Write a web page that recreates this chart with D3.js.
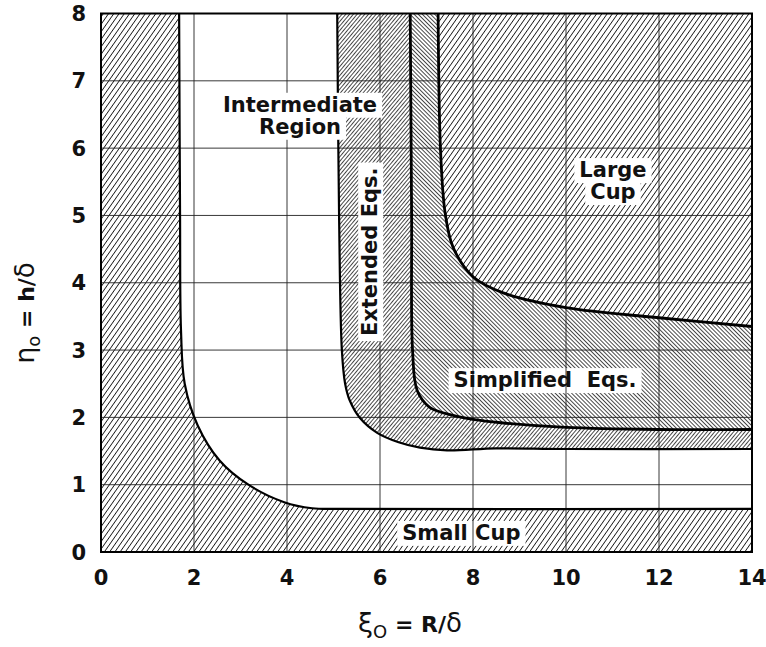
<!DOCTYPE html>
<html>
<head>
<meta charset="utf-8">
<script src="https://cdn.jsdelivr.net/npm/d3@7"></script>
<style>
  body { margin: 0; background: #fff; }
  svg { display: block; }
</style>
</head>
<body>
<div id="chart"></div>
<script>
// ticks
const xTicks = [0, 2, 4, 6, 8, 10, 12, 14];
const yTicks = [0, 1, 2, 3, 4, 5, 6, 7, 8];

// region boundaries, [xi0, eta0]
const smallCupEdge = [[1.68, 8], [1.70, 5], [1.72, 3.3], [1.80, 2.5], [2.08, 1.88], [2.55, 1.36], [3.17, 1.0], [3.94, 0.74], [4.54, 0.65], [5.2, 0.64], [14, 0.64]];
const extendedEdge = [[5.08, 8], [5.12, 5], [5.18, 3], [5.25, 2.5], [5.35, 2.25], [5.57, 1.99], [5.94, 1.77], [6.4, 1.63], [6.86, 1.55], [7.44, 1.51], [8.5, 1.54], [10, 1.53], [14, 1.53]];
const simplifiedEdge = [[6.65, 8], [6.68, 5], [6.7, 3], [6.8, 2.4], [7.07, 2.15], [7.57, 2.03], [8.0, 1.97], [8.6, 1.92], [10, 1.85], [12, 1.82], [14, 1.82]];
const largeCupEdge = [[7.25, 8], [7.3, 6], [7.4, 5.04], [7.57, 4.53], [8.0, 4.09], [8.65, 3.85], [10, 3.63], [12, 3.48], [14, 3.35]];

// region names
const labelText = [['Intermediate', 'Region'], ['Extended Eqs.'], ['Large', 'Cup'], ['Simplified  Eqs.'], ['Small Cup']];
const labelAt = [[4.28, 6.54], [5.94, 4.46], [11.01, 5.57], [9.55, 2.45], [7.75, 0.18]];

const W = 766, H = 647;
const plot = {left: 101, right: 752, top: 13.5, bottom: 552};
const font = '"DejaVu Sans", sans-serif';

const x = d3.scaleLinear().domain([0, 14]).range([plot.left, plot.right]);
const y = d3.scaleLinear().domain([0, 8]).range([plot.bottom, plot.top]);

const svg = d3.select('#chart').append('svg')
    .attr('width', W)
    .attr('height', H)
    .style('background', '#fff');
const defs = svg.append('defs');

// hatch patterns
function hatch(id, gap, angle, sw) {
    defs.append('pattern')
        .attr('id', id)
        .attr('patternUnits', 'userSpaceOnUse')
        .attr('width', gap)
        .attr('height', 10)
        .attr('patternTransform', `rotate(${angle})`)
        .append('line')
        .attr('x1', gap / 2).attr('x2', gap / 2)
        .attr('y1', 0).attr('y2', 10)
        .attr('stroke', '#1a1a1a')
        .attr('stroke-width', sw);
}
hatch('cup', 4.3, 35, 0.9);
hatch('ext', 2.9, 40, 0.8);
hatch('simp', 2.9, -45, 0.8);

defs.append('clipPath').attr('id', 'clip')
    .append('rect')
    .attr('x', plot.left).attr('y', plot.top)
    .attr('width', plot.right - plot.left)
    .attr('height', plot.bottom - plot.top);

const line = d3.line()
    .x(d => x(d[0]))
    .y(d => y(d[1]))
    .curve(d3.curveCatmullRom.alpha(0.5));

function between(a, b) {
    return line(a) + line(b.slice().reverse()).replace(/^M/, 'L') + 'Z';
}

const g = svg.append('g').attr('clip-path', 'url(#clip)');

// regions
g.append('path')
    .attr('d', line(smallCupEdge) + `L${x(14)},${y(0)}L${x(0)},${y(0)}L${x(0)},${y(8)}Z`)
    .attr('fill', 'url(#cup)');
g.append('path').attr('d', between(extendedEdge, simplifiedEdge)).attr('fill', 'url(#ext)');
g.append('path').attr('d', between(simplifiedEdge, largeCupEdge)).attr('fill', 'url(#simp)');
g.append('path')
    .attr('d', line(largeCupEdge) + `L${x(14)},${y(8)}Z`)
    .attr('fill', 'url(#cup)');

const boxUnder = g.append('g');

// grid
g.append('g').selectAll('line.v')
    .data(xTicks.slice(1, -1))
    .enter().append('line')
    .attr('x1', d => x(d)).attr('x2', d => x(d))
    .attr('y1', plot.top).attr('y2', plot.bottom)
    .attr('stroke', '#222').attr('stroke-width', 0.9);
g.append('g').selectAll('line.h')
    .data(yTicks.slice(1, -1))
    .enter().append('line')
    .attr('y1', d => y(d)).attr('y2', d => y(d))
    .attr('x1', plot.left).attr('x2', plot.right)
    .attr('stroke', '#222').attr('stroke-width', 0.9);

// boundaries
[smallCupEdge, extendedEdge, simplifiedEdge, largeCupEdge].forEach((c, i) => {
    g.append('path')
        .attr('d', line(c))
        .attr('fill', 'none')
        .attr('stroke', '#000')
        .attr('stroke-width', i < 2 ? 2.2 : 2.8);
});

const boxOver = g.append('g');

// frame
svg.append('rect')
    .attr('x', plot.left).attr('y', plot.top)
    .attr('width', plot.right - plot.left)
    .attr('height', plot.bottom - plot.top)
    .attr('fill', 'none')
    .attr('stroke', '#000')
    .attr('stroke-width', 2);

// labels with white boxes behind each line
const labels = svg.append('g');
labelText.forEach((lines, i) => {
    const [lx, ly] = labelAt[i];
    const rotated = i === 1;
    const under = i === 3 || i === 4;
    lines.forEach((t, j) => {
        const tx = labels.append('text')
            .attr('text-anchor', 'middle')
            .attr('font-family', font)
            .attr('font-weight', 'bold')
            .attr('font-size', 21)
            .attr('fill', '#111')
            .style('white-space', 'pre')
            .text(t);
        if (rotated) {
            tx.attr('transform', `translate(${x(lx)},${y(ly)}) rotate(-90)`);
        } else {
            tx.attr('x', x(lx)).attr('y', y(ly) + j * 22);
        }
        const b = tx.node().getBBox();
        const box = (under ? boxUnder : boxOver).append('rect')
            .attr('x', b.x - 5).attr('y', b.y)
            .attr('width', b.width + 10).attr('height', b.height + 1)
            .attr('fill', '#fff');
        if (rotated) box.attr('transform', `translate(${x(lx)},${y(ly)}) rotate(-90)`);
    });
});

// tick labels
svg.append('g').selectAll('text')
    .data(xTicks)
    .enter().append('text')
    .attr('x', d => x(d))
    .attr('y', plot.bottom + 33)
    .attr('text-anchor', 'middle')
    .attr('font-family', font)
    .attr('font-weight', 'bold')
    .attr('font-size', 21)
    .attr('fill', '#111')
    .text(d => d);
svg.append('g').selectAll('text')
    .data(yTicks)
    .enter().append('text')
    .attr('x', 86)
    .attr('y', d => y(d) + 7.5)
    .attr('text-anchor', 'end')
    .attr('font-family', font)
    .attr('font-weight', 'bold')
    .attr('font-size', 21)
    .attr('fill', '#111')
    .text(d => d);

// axis titles
function title(sel, sym, sub, rest) {
    sel.attr('font-family', font).attr('fill', '#111');
    sel.append('tspan').attr('font-size', 27).text(sym);
    sel.append('tspan').attr('font-size', 18).attr('dy', 6).text(sub);
    sel.append('tspan').attr('font-size', 22).attr('font-weight', 'bold').attr('dy', -6).text(rest);
    sel.append('tspan').attr('font-size', 26).text('δ');
}
title(svg.append('text')
    .attr('x', 410).attr('y', 632)
    .attr('text-anchor', 'middle'), 'ξ', 'O', ' = R/');
title(svg.append('text')
    .attr('transform', 'translate(34,313) rotate(-90)')
    .attr('text-anchor', 'middle'), 'η', 'o', ' = h/');
</script>
</body>
</html>
